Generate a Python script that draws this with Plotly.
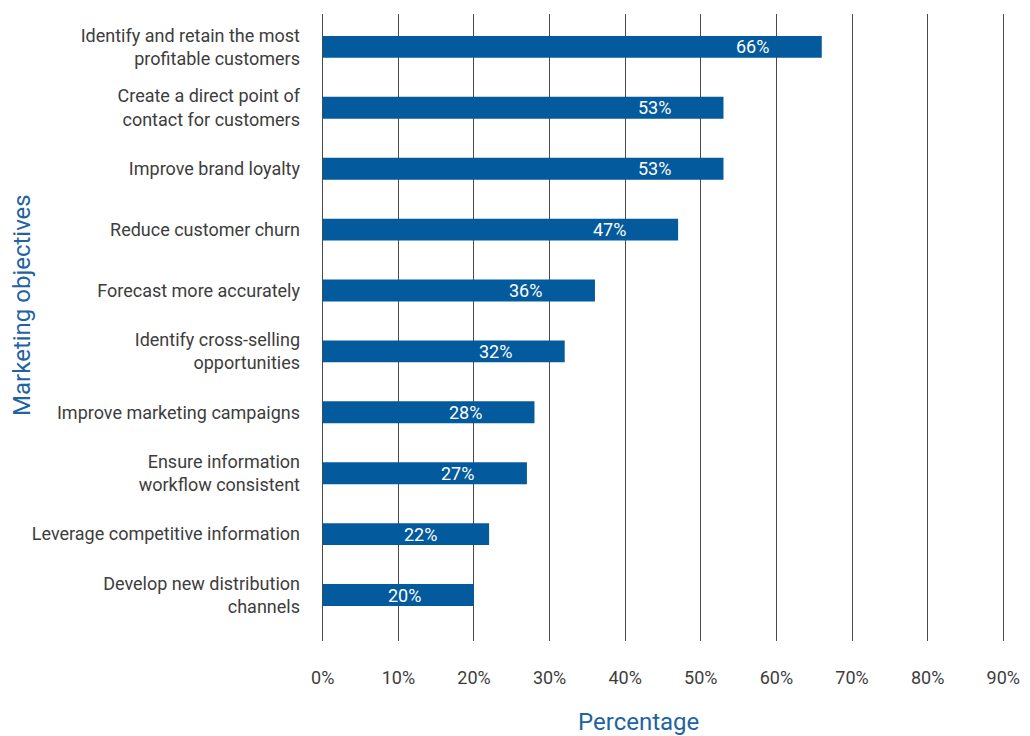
import plotly.graph_objects as go

categories = [
    "Identify and retain the most<br>profitable customers",
    "Create a direct point of<br>contact for customers",
    "Improve brand loyalty",
    "Reduce customer churn",
    "Forecast more accurately",
    "Identify cross-selling<br>opportunities",
    "Improve marketing campaigns",
    "Ensure information<br>workflow consistent",
    "Leverage competitive information",
    "Develop new distribution<br>channels",
]
values = [66, 53, 53, 47, 36, 32, 28, 27, 22, 20]
tick_vals = [0, 10, 20, 30, 40, 50, 60, 70, 80, 90]
tick_text = [f"{v}%" for v in tick_vals]

FONT = "Roboto, Arial, sans-serif"
BAR = "#035A9C"
TEXT = "#3d3d3d"
TITLE = "#1F63A3"

idx = list(range(len(categories)))

fig = go.Figure()
fig.add_trace(go.Bar(
    x=values, y=idx, orientation="h",
    marker=dict(color=BAR, line=dict(width=0)),
    width=0.36,
    hoverinfo="skip",
))

for i, v in zip(idx, values):
    fig.add_annotation(
        x=v, y=i, xref="x", yref="y", text=f"{v}%",
        showarrow=False, xanchor="center", yanchor="middle", xshift=-69,
        font=dict(family=FONT, size=18, color="white"),
    )

fig.add_annotation(
    x=0.4637, y=-0.129, xref="paper", yref="paper", text="Percentage",
    showarrow=False, xanchor="center", yanchor="middle",
    font=dict(family=FONT, size=24, color=TITLE),
)
fig.add_annotation(
    x=-0.4317, y=0.536, xref="paper", yref="paper", text="Marketing objectives",
    showarrow=False, textangle=-90, xanchor="center", yanchor="middle",
    font=dict(family=FONT, size=24, color=TITLE),
)

fig.update_layout(
    width=1030, height=736,
    margin=dict(l=319, r=23, t=14, b=95),
    plot_bgcolor="white", paper_bgcolor="white",
    showlegend=False,
    font=dict(family=FONT, size=18, color=TEXT),
    xaxis=dict(
        range=[-0.5, 90.5], tickvals=tick_vals, ticktext=tick_text,
        showgrid=True, gridcolor="#4a4a4a", gridwidth=1,
        zeroline=False, showline=False, ticks="", automargin=False,
        tickfont=dict(family=FONT, size=18, color=TEXT),
        ticklabelstandoff=24,
    ),
    yaxis=dict(
        tickvals=idx, ticktext=categories, automargin=False,
        range=[9.755, -0.54], showgrid=False, zeroline=False,
        showline=False, ticks="", ticklabelstandoff=18,
        tickfont=dict(family=FONT, size=18, color=TEXT),
    ),
)
fig.write_html(
    "out.html",
    config={"displayModeBar": False},
    post_script="document.body.style.margin='0';document.body.style.overflow='hidden';",
)
